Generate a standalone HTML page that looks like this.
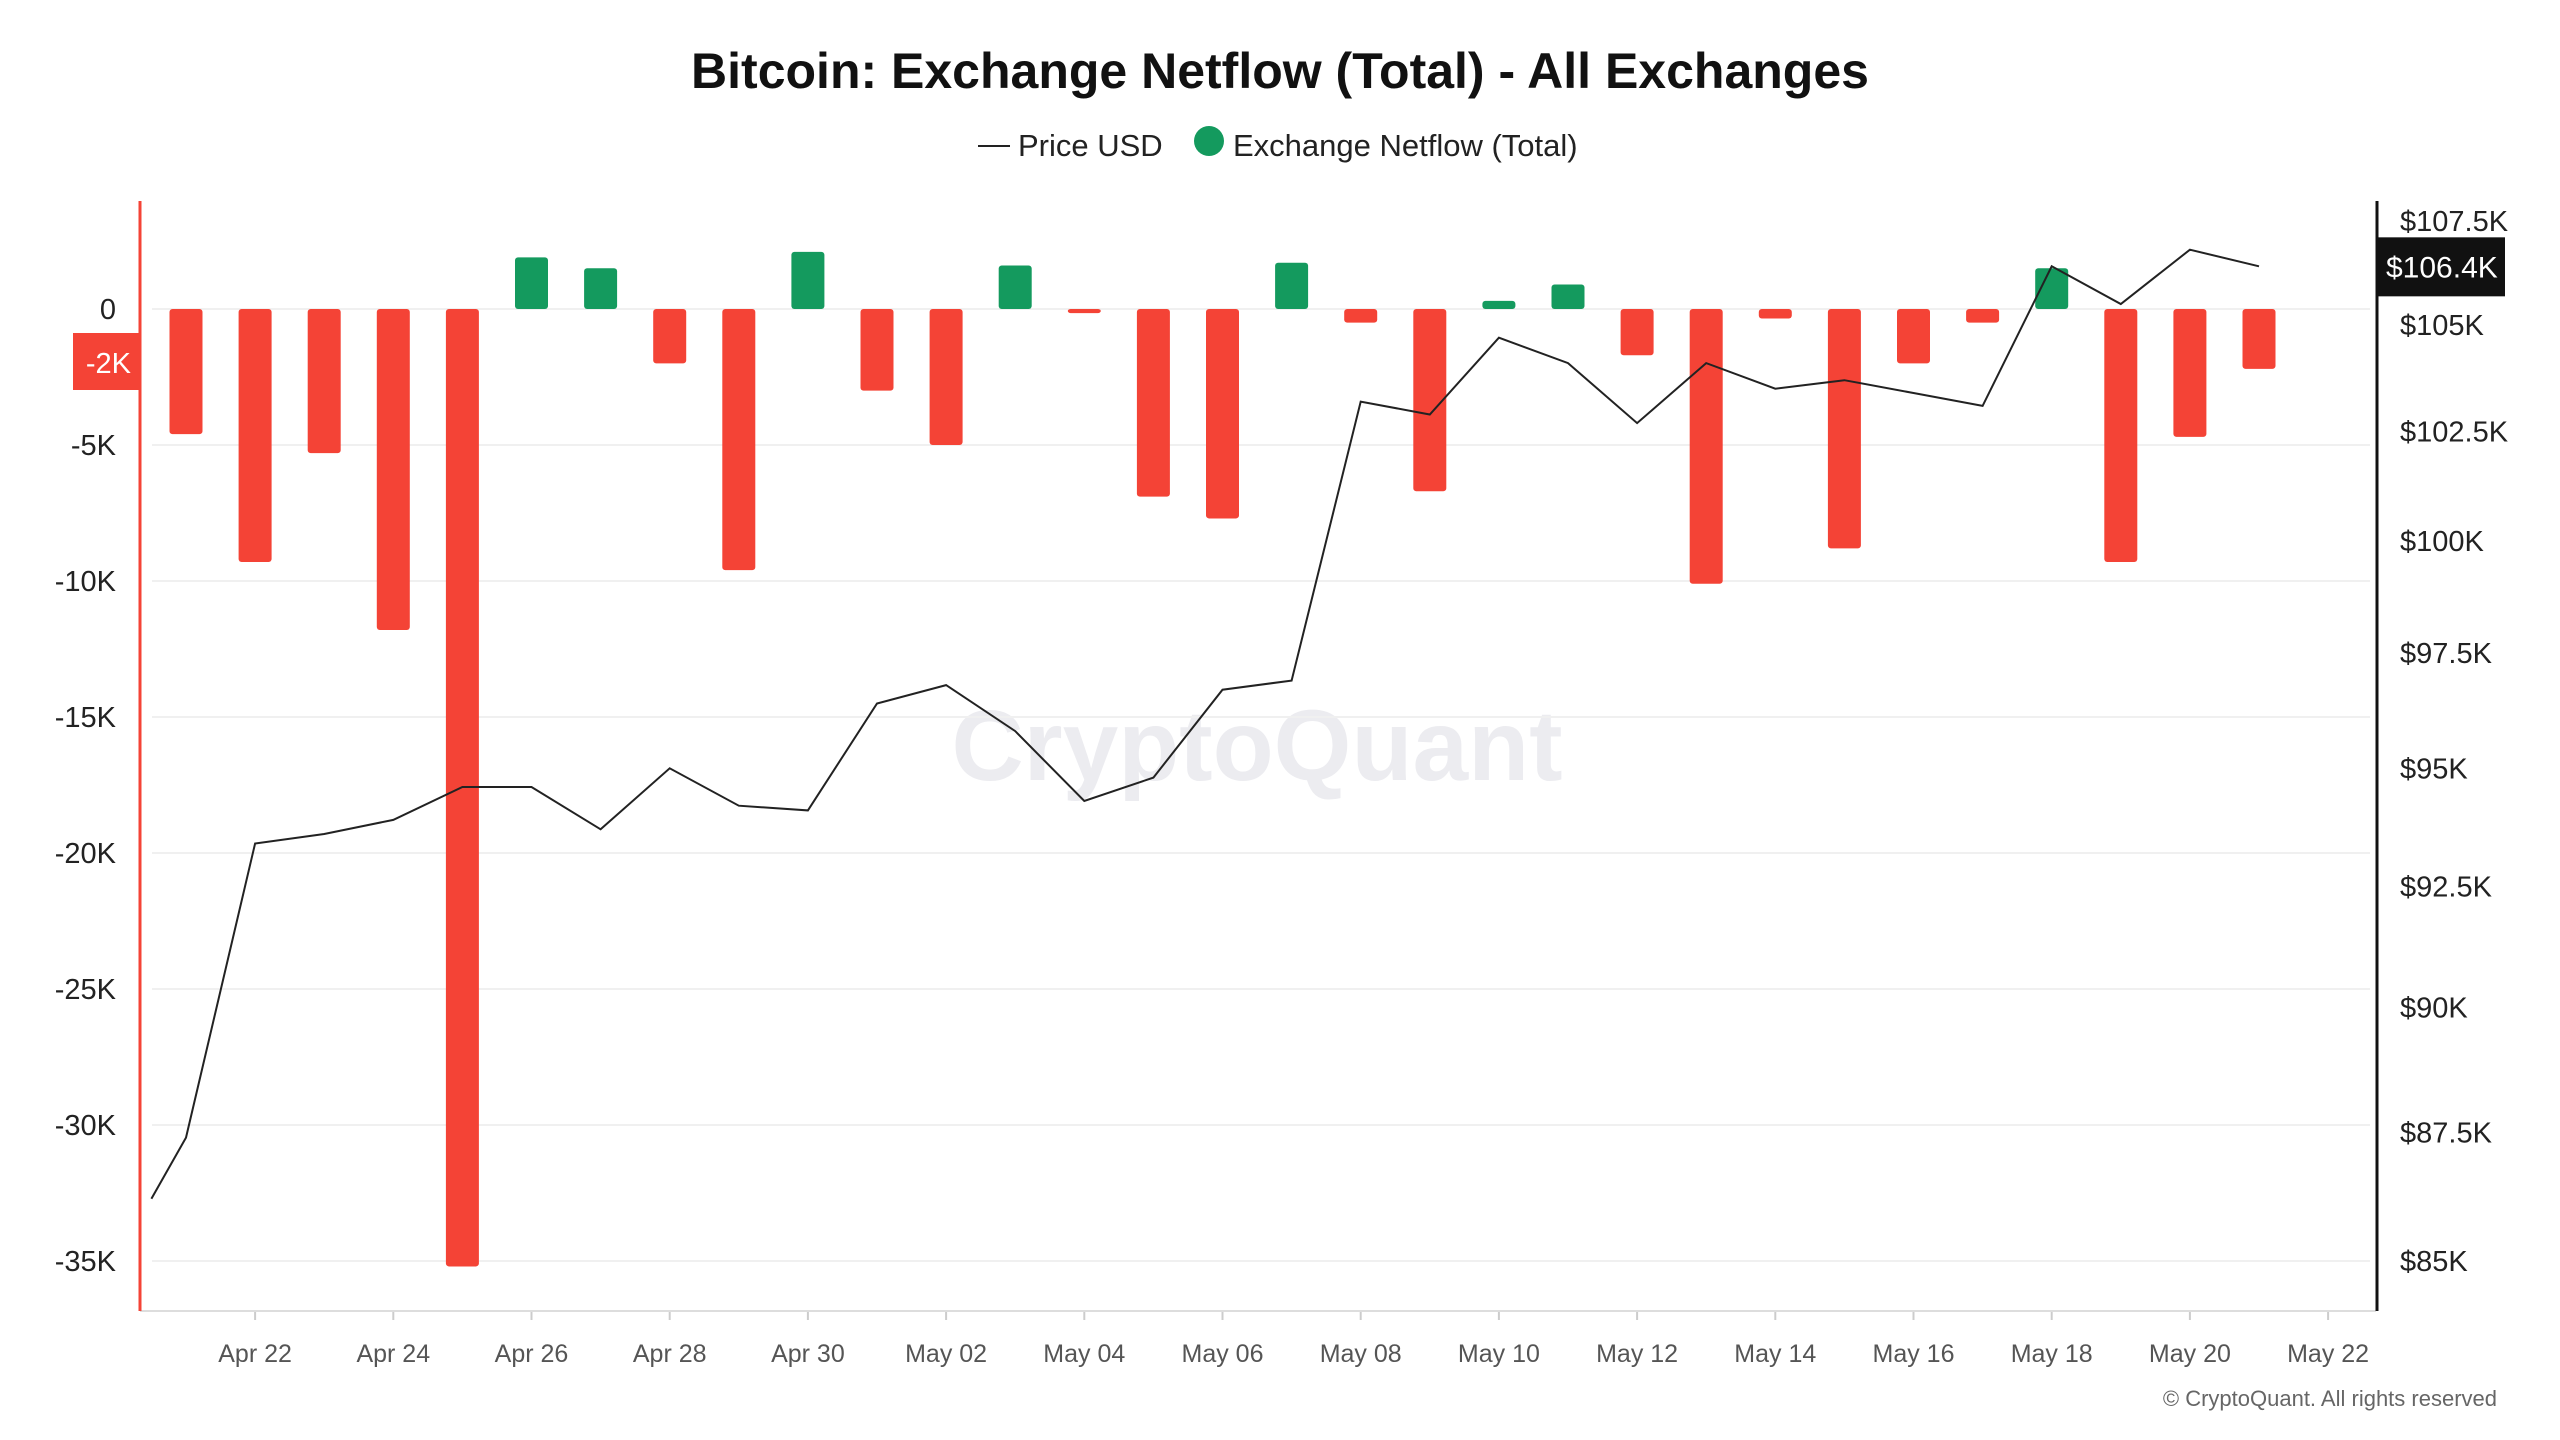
<!DOCTYPE html>
<html><head><meta charset="utf-8"><style>
html,body{margin:0;padding:0;background:#fff;}
svg{display:block;font-family:"Liberation Sans",sans-serif;}
</style></head><body>
<svg id="chart" width="2560" height="1440" viewBox="0 0 2560 1440" xmlns="http://www.w3.org/2000/svg">
<rect width="2560" height="1440" fill="#fff"/>
<text x="1280" y="88" text-anchor="middle" font-size="50" font-weight="bold" fill="#111">Bitcoin: Exchange Netflow (Total) - All Exchanges</text>
<g>
<line x1="978" y1="146" x2="1010" y2="146" stroke="#222" stroke-width="2"/>
<text x="1018" y="156" font-size="31" fill="#222">Price USD</text>
<circle cx="1209" cy="141" r="15" fill="#149a5e"/>
<text x="1233" y="156" font-size="31" fill="#222">Exchange Netflow (Total)</text>
</g>
<text x="1257" y="780" text-anchor="middle" font-size="100" font-weight="bold" fill="#ececf0">CryptoQuant</text>
<g id="grid"></g><g id="bars"></g><g id="line"></g><g id="axes"></g>
<text x="2497" y="1406" text-anchor="end" font-size="22" fill="#666">© CryptoQuant. All rights reserved</text>
</svg>
<script>
const dayIndex=[-0.5,0,1,2,3,4,5,6,7,8,9,10,11,12,13,14,15,16,17,18,19,20,21,22,23,24,25,26,27,28,29,30];
const priceUSD=[86200,87400,93400,93600,93900,94600,94600,93700,95000,94200,94100,96400,96800,95800,94300,94800,96700,96900,103200,102900,104700,104100,102700,104100,103500,103700,103400,103100,106400,105500,106800,106400];
const netflowK=[-4.6,-9.3,-5.3,-11.8,-35.2,1.9,1.5,-2.0,-9.6,2.1,-3.0,-5.0,1.6,-0.15,-6.9,-7.7,1.7,-0.5,-6.7,0.3,0.9,-1.7,-10.1,-0.35,-8.8,-2.0,-0.5,1.5,-9.3,-4.7,-2.2];
const leftTicks=[0,-5,-10,-15,-20,-25,-30,-35];
const leftTickLabels=["0","-5K","-10K","-15K","-20K","-25K","-30K","-35K"];
const rightTicks=[107500,105000,102500,100000,97500,95000,92500,90000,87500,85000];
const rightTickLabels=["$107.5K","$105K","$102.5K","$100K","$97.5K","$95K","$92.5K","$90K","$87.5K","$85K"];
const xTickDays=[1,3,5,7,9,11,13,15,17,19,21,23,25,27,29,31];
const xTickLabels=["Apr 22","Apr 24","Apr 26","Apr 28","Apr 30","May 02","May 04","May 06","May 08","May 10","May 12","May 14","May 16","May 18","May 20","May 22"];
const lastPriceLabel="$106.4K";

const NS="http://www.w3.org/2000/svg";
function el(t,a,p){const e=document.createElementNS(NS,t);for(const k in a)e.setAttribute(k,a[k]);p.appendChild(e);return e;}
const X=d=>186+d*69.1;
const YL=v=>309-v*27.2;
const YR=p=>325-Math.log(p/105000)*4429;
const grid=document.getElementById('grid'),bars=document.getElementById('bars'),line=document.getElementById('line'),axes=document.getElementById('axes');

leftTicks.forEach((v,i)=>{
 const g=el('line',{x1:152,x2:2370,y1:YL(v),y2:YL(v),stroke:'#f0f0f0','stroke-width':2},grid);
 
 
 const t=el('text',{x:116,y:YL(v)+10,'text-anchor':'end','font-size':29,fill:'#222'},axes);
 t.textContent=leftTickLabels[i];
 
 
});
rightTicks.forEach((p,i)=>{
 const t=el('text',{x:2400,y:YR(p)+10,'font-size':29,fill:'#222'},axes);
 t.textContent=rightTickLabels[i];
 
 
});
xTickDays.forEach((d,i)=>{
 const tk=el('line',{x1:X(d),x2:X(d),y1:1311,y2:1320,stroke:'#ccc','stroke-width':2},axes);
 
 
 const t=el('text',{x:X(d),y:1362,'text-anchor':'middle','font-size':25,fill:'#555'},axes);
 t.textContent=xTickLabels[i];
 
 
});
netflowK.forEach((v,i)=>{
 const x=X(i)-16.5,y0=YL(0),y1=YL(v);
 const r=el('rect',{x:x,y:Math.min(y0,y1),width:33,height:Math.max(1.5,Math.abs(y1-y0)),rx:3,fill:v>=0?'#149a5e':'#f44336'},bars);
 
 
});
const pts=priceUSD.map((p,i)=>X(dayIndex[i]).toFixed(1)+','+YR(p).toFixed(1)).join(' ');
const pl=el('polyline',{points:pts,fill:'none',stroke:'#222','stroke-width':2},line);



const xa=el('line',{x1:140,x2:2376,y1:1311,y2:1311,stroke:'#ddd','stroke-width':2},axes);


const la=el('line',{x1:140,x2:140,y1:201,y2:1311,stroke:'#f44336','stroke-width':3},axes);


const ra=el('line',{x1:2377,x2:2377,y1:201,y2:1311,stroke:'#111','stroke-width':3},axes);


const hb=el('rect',{x:73,y:333,width:67,height:57,fill:'#f44336'},axes);


const ht=el('text',{x:131,y:373,'text-anchor':'end','font-size':29,fill:'#fff'},axes);
ht.textContent='-2K';


const lp=priceUSD[priceUSD.length-1];
const pb=el('rect',{x:2377,y:YR(lp)-29,width:128,height:59,fill:'#111'},axes);


const pt=el('text',{x:2386,y:YR(lp)+11,'font-size':30,fill:'#fff'},axes);
pt.textContent=lastPriceLabel;


</script>
</body></html>
